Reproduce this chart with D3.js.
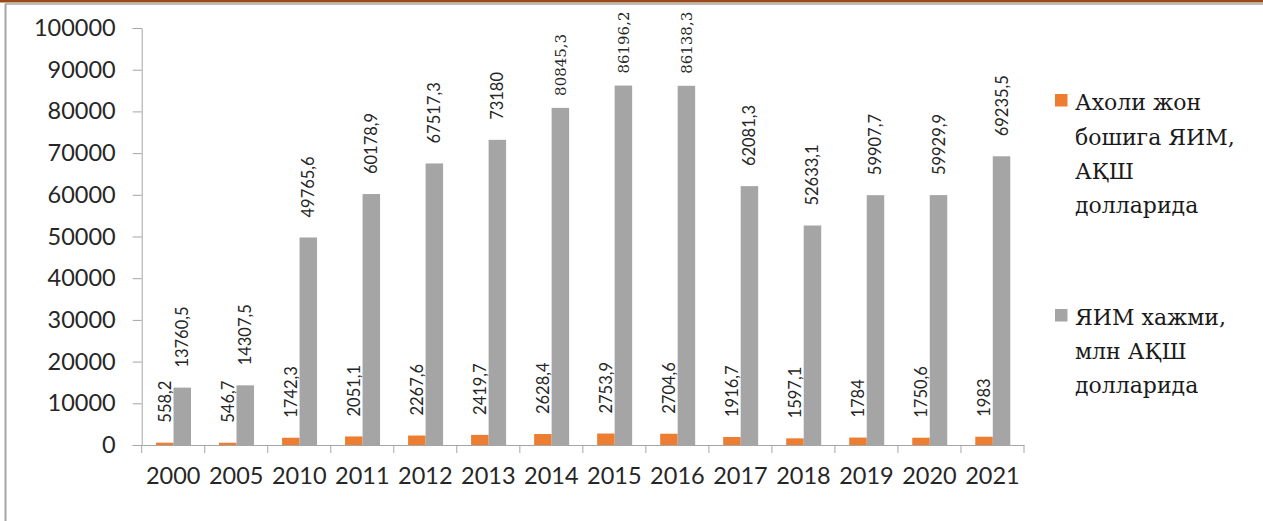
<!DOCTYPE html>
<html><head><meta charset="utf-8">
<script src="https://cdn.jsdelivr.net/npm/d3@7"></script>
<style>body{margin:0;background:#fff;}svg{display:block;}
.serif{font-family:"DejaVu Serif","Liberation Serif",serif;}
.sans{font-family:Lato,"Liberation Sans",sans-serif;}
</style>
</head><body>
<script>
const years = ["2000","2005","2010","2011","2012","2013","2014","2015","2016","2017","2018","2019","2020","2021"];
const perCapita = [558.2,546.7,1742.3,2051.1,2267.6,2419.7,2628.4,2753.9,2704.6,1916.7,1597.1,1784,1750.6,1983];
const gdpVolume = [13760.5,14307.5,49765.6,60178.9,67517.3,73180,80845.3,86196.2,86138.3,62081.3,52633.1,59907.7,59929.9,69235.5];
const perCapitaLabels = ["558,2","546,7","1742,3","2051,1","2267,6","2419,7","2628,4","2753,9","2704,6","1916,7","1597,1","1784","1750,6","1983"];
const gdpLabels = ["13760,5","14307,5","49765,6","60178,9","67517,3","73180","80845,3","86196,2","86138,3","62081,3","52633,1","59907,7","59929,9","69235,5"];
const yTicks = [0,10000,20000,30000,40000,50000,60000,70000,80000,90000,100000];
const seriesNames = [["Ахоли жон","бошига ЯИМ,","АҚШ","долларида"],["ЯИМ хажми,","млн АҚШ","долларида"]];
const colors = ["#ED7D31","#A5A5A5"];
const serifLabelYears = ["2014","2015","2016"];

const W=1263,H=521;
const svg=d3.select("body").append("svg").attr("width",W).attr("height",H);
// frame
svg.append("rect").attr("x",0).attr("y",0).attr("width",W).attr("height",2.5).attr("fill","#9A4A1A");
svg.append("line").attr("x1",5).attr("x2",W).attr("y1",4).attr("y2",4).attr("stroke","#A6A6A6").attr("stroke-width",1.5);
svg.append("line").attr("x1",5.5).attr("x2",5.5).attr("y1",4).attr("y2",H).attr("stroke","#A6A6A6").attr("stroke-width",2);

const x=d3.scaleBand().domain(years).range([141.7,1024]).padding(0);
const y=d3.scaleLinear().domain([0,100000]).range([445,28]);
const bw=17.5, off=14.3;
const axisCol="#A6A6A6", textCol="#262626";

// y axis
const ya=svg.append("g").attr("transform","translate(141.7,0)")
  .call(d3.axisLeft(y).tickValues(yTicks).tickSize(9).tickPadding(17).tickFormat(d3.format("d")));
ya.selectAll("path,line").attr("stroke",axisCol);
ya.selectAll("text").attr("class","sans").attr("font-size",23.5).attr("fill",textCol);

// x axis
const xa=svg.append("g").attr("transform","translate(0,445)")
  .call(d3.axisBottom(x).tickSize(0).tickPadding(22));
xa.select("path").attr("stroke",axisCol);
xa.selectAll("text").attr("class","sans").attr("font-size",23.5).attr("fill",textCol);
ya.attr("font-family",null); xa.attr("font-family",null);
// category boundary ticks
const bounds=years.map(d=>x(d)).concat([x.range()[1]]);
svg.append("g").selectAll("line").data(bounds).join("line")
  .attr("x1",d=>d).attr("x2",d=>d).attr("y1",445).attr("y2",453).attr("stroke",axisCol);

// bars
const series=[perCapita,gdpVolume];
const labels=[perCapitaLabels,gdpLabels];
series.forEach((vals,si)=>{
  const g=svg.append("g");
  g.selectAll("rect").data(years).join("rect")
    .attr("x",d=>x(d)+off+si*bw).attr("width",bw)
    .attr("y",(d,i)=>y(vals[i])).attr("height",(d,i)=>y(0)-y(vals[i]))
    .attr("fill",colors[si]);
  g.selectAll("text").data(years).join("text")
    .attr("transform",(d,i)=>{
      const s=serifLabelYears.includes(d)&&si==1;
      return `translate(${x(d)+off+si*bw+bw/2+(s?5.5:6)},${y(vals[i])-(s?12:20)}) rotate(-90)`;})
    .attr("text-anchor","start")
    .attr("class",d=>serifLabelYears.includes(d)&&si==1?"serif":"sans")
    .attr("font-size",d=>serifLabelYears.includes(d)&&si==1?15:16.5)
    .attr("fill",textCol)
    .text((d,i)=>labels[si][i]);
});

// legend
const legY=[[110,145,179,213],[325,359,393]];
seriesNames.forEach((lines,si)=>{
  const g=svg.append("g");
  g.append("rect").attr("x",1055).attr("y",legY[si][0]-16).attr("width",12.5).attr("height",12.5).attr("fill",colors[si]);
  lines.forEach((t,li)=>{
    g.append("text").attr("x",1075).attr("y",legY[si][li]).attr("class","serif")
      .attr("font-size",22)
      .attr("fill","#1a1a1a").text(t);
  });
});
</script>
</body></html>
